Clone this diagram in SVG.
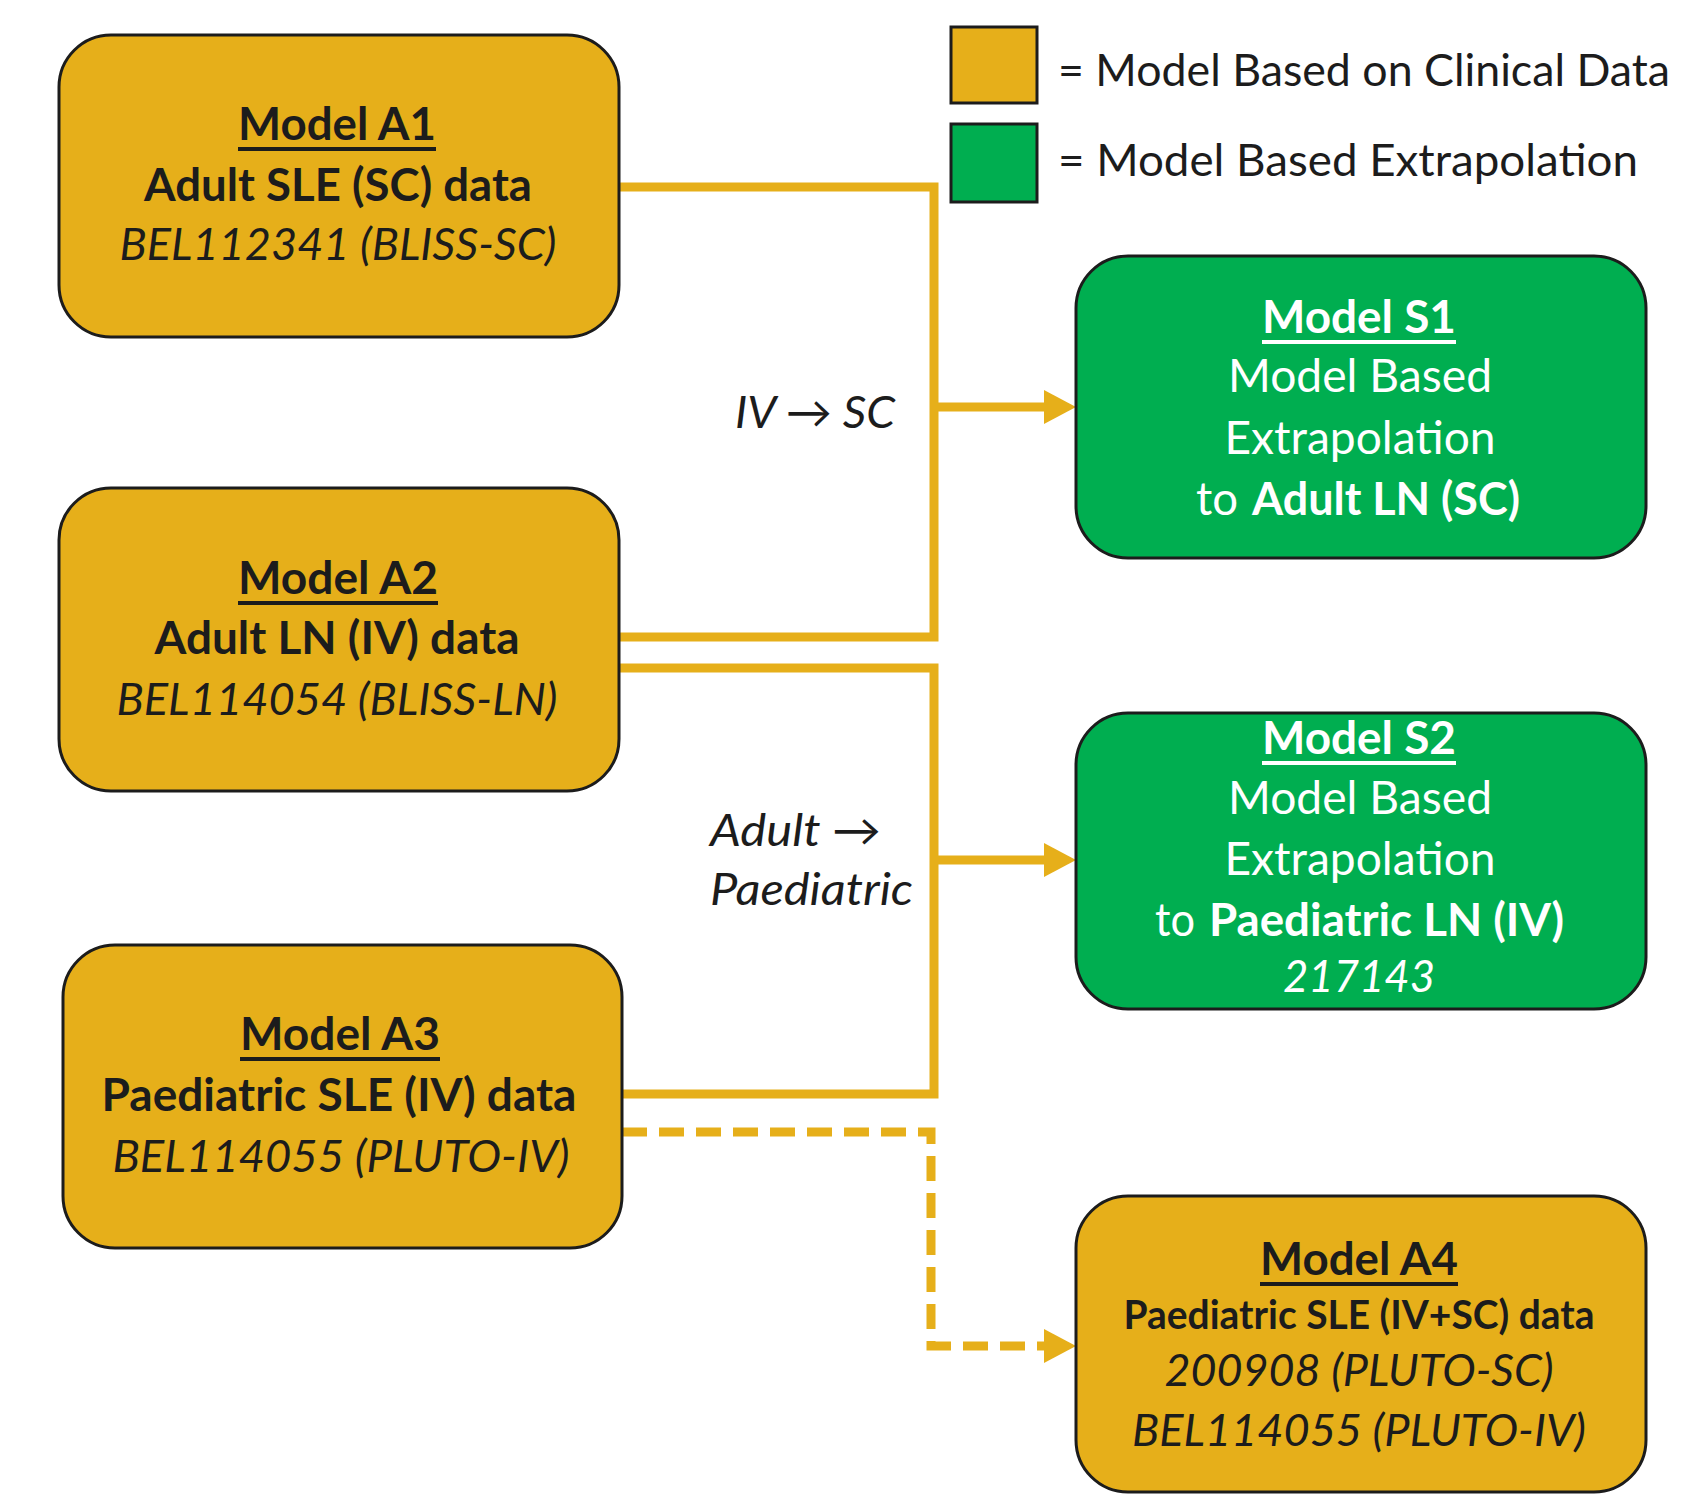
<svg xmlns="http://www.w3.org/2000/svg" width="1694" height="1494" viewBox="0 0 1694 1494">
<style>
text{font-family:Lato,"Open Sans","Liberation Sans",sans-serif;}
.box-y{fill:#E6AF1A;stroke:#1c1c1c;stroke-width:3;}
.box-g{fill:#00AE50;stroke:#1c1c1c;stroke-width:3;}
.dk{fill:#1c1c1c;}
.wh{fill:#ffffff;}
.t{font-size:46px;font-weight:700;text-anchor:middle;}
.b{font-size:46px;font-weight:700;text-anchor:middle;}
.r{font-size:46px;font-weight:400;text-anchor:middle;}
.i{font-size:44px;font-style:italic;text-anchor:middle;}
.lbl{font-size:44px;font-style:italic;fill:#1c1c1c;}
.leg{font-size:45px;fill:#1c1c1c;}
.conn{fill:none;stroke:#E6AF1A;stroke-width:9;}
.dash{stroke-dasharray:25 12;}
.head{fill:#E6AF1A;}
</style>

<g id="legend">
<rect x="951" y="27" width="86" height="76" class="box-y"/>
<rect x="951" y="124" width="86" height="78" class="box-g"/>
<text x="1058" y="86" class="leg" textLength="612" lengthAdjust="spacingAndGlyphs">= Model Based on Clinical Data</text>
<text x="1058" y="176" class="leg" textLength="580" lengthAdjust="spacingAndGlyphs">= Model Based Extrapolation</text>
</g>

<g id="connectors">
<path class="conn" d="M619,187 H934 V637 H619"/>
<path class="conn" d="M934,407 H1046"/>
<polygon class="head" points="1044,390 1076,407 1044,424"/>
<path class="conn" d="M619,668 H934 V1094 H622"/>
<path class="conn" d="M934,860 H1046"/>
<polygon class="head" points="1044,843 1076,860 1044,877"/>
<path class="conn dash" d="M622,1132 H931 V1346 H1046"/>
<polygon class="head" points="1044,1329 1076,1346 1044,1363"/>
<text x="735" y="428" class="lbl" textLength="160" lengthAdjust="spacingAndGlyphs">IV → SC</text>
<text x="710" y="846" class="lbl" textLength="171" lengthAdjust="spacingAndGlyphs">Adult →</text>
<text x="710" y="905" class="lbl" textLength="203" lengthAdjust="spacingAndGlyphs">Paediatric</text>
</g>

<g id="A1">
<rect x="59" y="35" width="560" height="302" rx="52" class="box-y"/>
<text x="337" y="140" class="t dk" textLength="198" lengthAdjust="spacingAndGlyphs">Model A1</text>
<rect x="238" y="147" width="198" height="4" class="dk"/>
<text x="338" y="201" class="b dk" textLength="388" lengthAdjust="spacingAndGlyphs">Adult SLE (SC) data</text>
<text x="338" y="260" class="i dk" textLength="437" lengthAdjust="spacingAndGlyphs">BEL112341 (BLISS-SC)</text>
</g>

<g id="A2">
<rect x="59" y="488" width="560" height="303" rx="52" class="box-y"/>
<text x="338" y="594" class="t dk" textLength="200" lengthAdjust="spacingAndGlyphs">Model A2</text>
<rect x="238" y="601" width="200" height="4" class="dk"/>
<text x="337" y="654" class="b dk" textLength="365" lengthAdjust="spacingAndGlyphs">Adult LN (IV) data</text>
<text x="337" y="715" class="i dk" textLength="441" lengthAdjust="spacingAndGlyphs">BEL114054 (BLISS-LN)</text>
</g>

<g id="A3">
<rect x="63" y="945" width="559" height="303" rx="52" class="box-y"/>
<text x="340" y="1050" class="t dk" textLength="200" lengthAdjust="spacingAndGlyphs">Model A3</text>
<rect x="240" y="1057" width="200" height="4" class="dk"/>
<text x="339" y="1111" class="b dk" textLength="475" lengthAdjust="spacingAndGlyphs">Paediatric SLE (IV) data</text>
<text x="341" y="1172" class="i dk" textLength="457" lengthAdjust="spacingAndGlyphs">BEL114055 (PLUTO-IV)</text>
</g>

<g id="S1">
<rect x="1076" y="256" width="570" height="302" rx="52" class="box-g"/>
<text x="1359" y="333" class="t wh" textLength="194" lengthAdjust="spacingAndGlyphs">Model S1</text>
<rect x="1262" y="340" width="194" height="4" class="wh"/>
<text x="1360" y="392" class="r wh" textLength="264" lengthAdjust="spacingAndGlyphs">Model Based</text>
<text x="1360" y="454" class="r wh" textLength="271" lengthAdjust="spacingAndGlyphs">Extrapolation</text>
<text x="1196" y="515" class="wh" style="font-size:46px" textLength="42" lengthAdjust="spacingAndGlyphs">to</text>
<text x="1252" y="515" class="wh" style="font-size:46px;font-weight:700" textLength="268" lengthAdjust="spacingAndGlyphs">Adult LN (SC)</text>
</g>

<g id="S2">
<rect x="1076" y="713" width="570" height="296" rx="52" class="box-g"/>
<text x="1359" y="754" class="t wh" textLength="194" lengthAdjust="spacingAndGlyphs">Model S2</text>
<rect x="1262" y="761" width="194" height="4" class="wh"/>
<text x="1360" y="814" class="r wh" textLength="264" lengthAdjust="spacingAndGlyphs">Model Based</text>
<text x="1360" y="875" class="r wh" textLength="271" lengthAdjust="spacingAndGlyphs">Extrapolation</text>
<text x="1155" y="936" class="wh" style="font-size:46px" textLength="40" lengthAdjust="spacingAndGlyphs">to</text>
<text x="1209" y="936" class="wh" style="font-size:46px;font-weight:700" textLength="355" lengthAdjust="spacingAndGlyphs">Paediatric LN (IV)</text>
<text x="1359" y="992" class="i wh" textLength="152" lengthAdjust="spacingAndGlyphs">217143</text>
</g>

<g id="A4">
<rect x="1076" y="1196" width="570" height="296" rx="52" class="box-y"/>
<text x="1359" y="1275" class="t dk" textLength="198" lengthAdjust="spacingAndGlyphs">Model A4</text>
<rect x="1260" y="1282" width="198" height="4" class="dk"/>
<text x="1359" y="1329" class="dk" style="font-size:40px;font-weight:700;text-anchor:middle" textLength="471" lengthAdjust="spacingAndGlyphs">Paediatric SLE (IV+SC) data</text>
<text x="1359" y="1386" class="i dk" textLength="389" lengthAdjust="spacingAndGlyphs">200908 (PLUTO-SC)</text>
<text x="1359" y="1446" class="i dk" textLength="454" lengthAdjust="spacingAndGlyphs">BEL114055 (PLUTO-IV)</text>
</g>
</svg>
